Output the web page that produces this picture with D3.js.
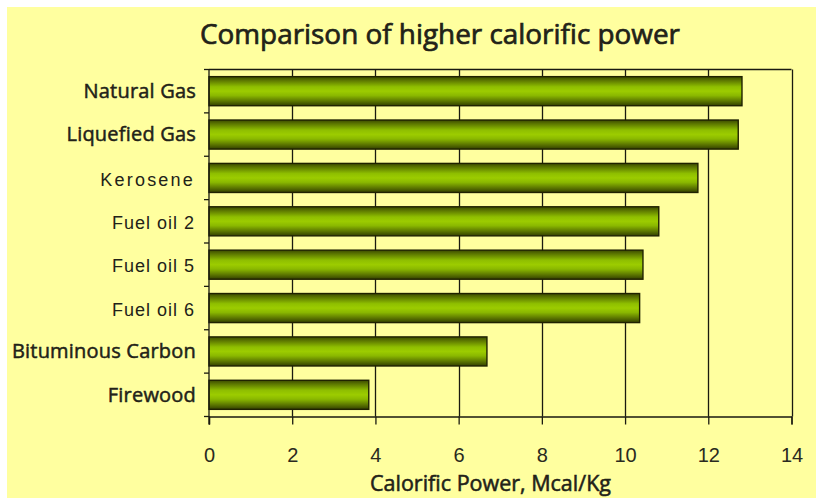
<!DOCTYPE html>
<html>
<head>
<meta charset="utf-8">
<script src="https://cdn.jsdelivr.net/npm/d3@7"></script>
<style>
  html, body { margin: 0; padding: 0; background: #ffffff; }
  svg { display: block; }
</style>
</head>
<body>
<svg id="chart" width="816" height="501"></svg>
<script>
const categories = ["Natural Gas", "Liquefied Gas", "Kerosene", "Fuel oil 2", "Fuel oil 5", "Fuel oil 6", "Bituminous Carbon", "Firewood"];
const values = [12.81, 12.72, 11.75, 10.81, 10.43, 10.35, 6.68, 3.84];
const xTicks = [0, 2, 4, 6, 8, 10, 12, 14];
const title = "Comparison of higher calorific power";
const xTitle = "Calorific Power, Mcal/Kg";
// labels drawn in an Arial-like face in the original
const arialLabels = ["Kerosene", "Fuel oil 2", "Fuel oil 5", "Fuel oil 6"];

const svg = d3.select("#chart");
const W = 816, H = 501;
const margin = { left: 209, right: 816 - 791.5, top: 69.5, bottom: 501 - 416.5 };
const ink = "#222218";

// background
svg.append("rect").attr("x", 7).attr("y", 7).attr("width", W - 7).attr("height", H - 10).attr("fill", "#ffff9f");

const x = d3.scaleLinear().domain([0, 14]).range([margin.left, W - margin.right]);
const y = d3.scaleBand().domain(categories).range([margin.top, H - margin.bottom]).paddingInner(0.33).paddingOuter(0.165);
const yb = d3.scaleBand().domain(categories).range([margin.top, H - margin.bottom]);

// gradient for bars
const defs = svg.append("defs");
const g = defs.append("linearGradient").attr("id", "barGrad").attr("x1", 0).attr("y1", 0).attr("x2", 0).attr("y2", 1);
[[0, "#3b4a00"], [0.12, "#5a7400"], [0.35, "#8fbf00"], [0.5, "#9ccc00"], [0.65, "#8ab800"], [0.85, "#5a7400"], [1, "#334000"]]
  .forEach(([o, c]) => g.append("stop").attr("offset", o).attr("stop-color", c));

// grid lines
svg.append("g").selectAll("line").data(xTicks.slice(1)).join("line")
  .attr("x1", d => Math.round(x(d)) + 0.5).attr("x2", d => Math.round(x(d)) + 0.5)
  .attr("y1", margin.top).attr("y2", H - margin.bottom)
  .attr("stroke", "#1a1a10").attr("stroke-width", 1.3);

// top border
svg.append("line").attr("x1", margin.left).attr("x2", W - margin.right)
  .attr("y1", margin.top).attr("y2", margin.top).attr("stroke", "#1a1a10").attr("stroke-width", 1.3);

// bars
svg.append("g").selectAll("rect").data(categories).join("rect")
  .attr("x", x(0))
  .attr("y", d => y(d))
  .attr("width", (d, i) => x(values[i]) - x(0))
  .attr("height", y.bandwidth())
  .attr("fill", "url(#barGrad)")
  .attr("stroke", "#1f2200").attr("stroke-width", 1.4);

// x axis
const xAxis = svg.append("g").attr("transform", `translate(0,${H - margin.bottom})`)
  .call(d3.axisBottom(x).tickValues(xTicks).tickSize(8).tickPadding(23).tickFormat(d3.format("d")));
xAxis.selectAll("path, line").attr("stroke", "#1a1a10").attr("stroke-width", 1.3);
xAxis.selectAll("text").attr("font-family", "Liberation Sans, Arial, sans-serif").attr("font-size", 20).attr("fill", "#2a2a20");

// y axis (ticks at band boundaries)
const yAxisG = svg.append("g");
yAxisG.append("line").attr("x1", margin.left).attr("x2", margin.left)
  .attr("y1", margin.top).attr("y2", H - margin.bottom + 8).attr("stroke", "#1a1a10").attr("stroke-width", 1.3);
const boundaries = categories.map(c => yb(c)).concat([H - margin.bottom]);
yAxisG.selectAll("line.tk").data(boundaries).join("line").attr("class", "tk")
  .attr("x1", margin.left - 5).attr("x2", margin.left)
  .attr("y1", d => d).attr("y2", d => d)
  .attr("stroke", "#1a1a10").attr("stroke-width", 1.3);

yAxisG.selectAll("text.lbl").data(categories).join("text").attr("class", "lbl")
  .attr("x", d => arialLabels.includes(d) ? 195 : 196)
  .attr("y", d => yb(d) + yb.bandwidth() / 2)
  .attr("dy", d => arialLabels.includes(d) ? "0.43em" : "0.34em")
  .attr("text-anchor", "end")
  .attr("font-family", d => arialLabels.includes(d) ? "Liberation Sans, Arial, sans-serif" : "Open Sans, sans-serif")
  .attr("font-size", d => arialLabels.includes(d) ? 18 : 20)
  .attr("letter-spacing", d => d === "Kerosene" ? 2.2 : (arialLabels.includes(d) ? 1 : 0.2))
  .attr("fill", ink)
  .attr("stroke", d => arialLabels.includes(d) ? "none" : ink)
  .attr("stroke-width", 0.5)
  .text(d => d);

// title
svg.append("text").attr("x", 200).attr("y", 44)
  .attr("textLength", 480).attr("lengthAdjust", "spacingAndGlyphs")
  .attr("font-family", "Open Sans, sans-serif").attr("font-size", 28)
  .attr("fill", ink).attr("stroke", ink).attr("stroke-width", 0.7)
  .text(title);

// axis title
svg.append("text").attr("x", 370).attr("y", 491)
  .attr("textLength", 241).attr("lengthAdjust", "spacingAndGlyphs")
  .attr("font-family", "Open Sans, sans-serif").attr("font-size", 22)
  .attr("fill", ink).attr("stroke", ink).attr("stroke-width", 0.55)
  .text(xTitle);
</script>
</body>
</html>
